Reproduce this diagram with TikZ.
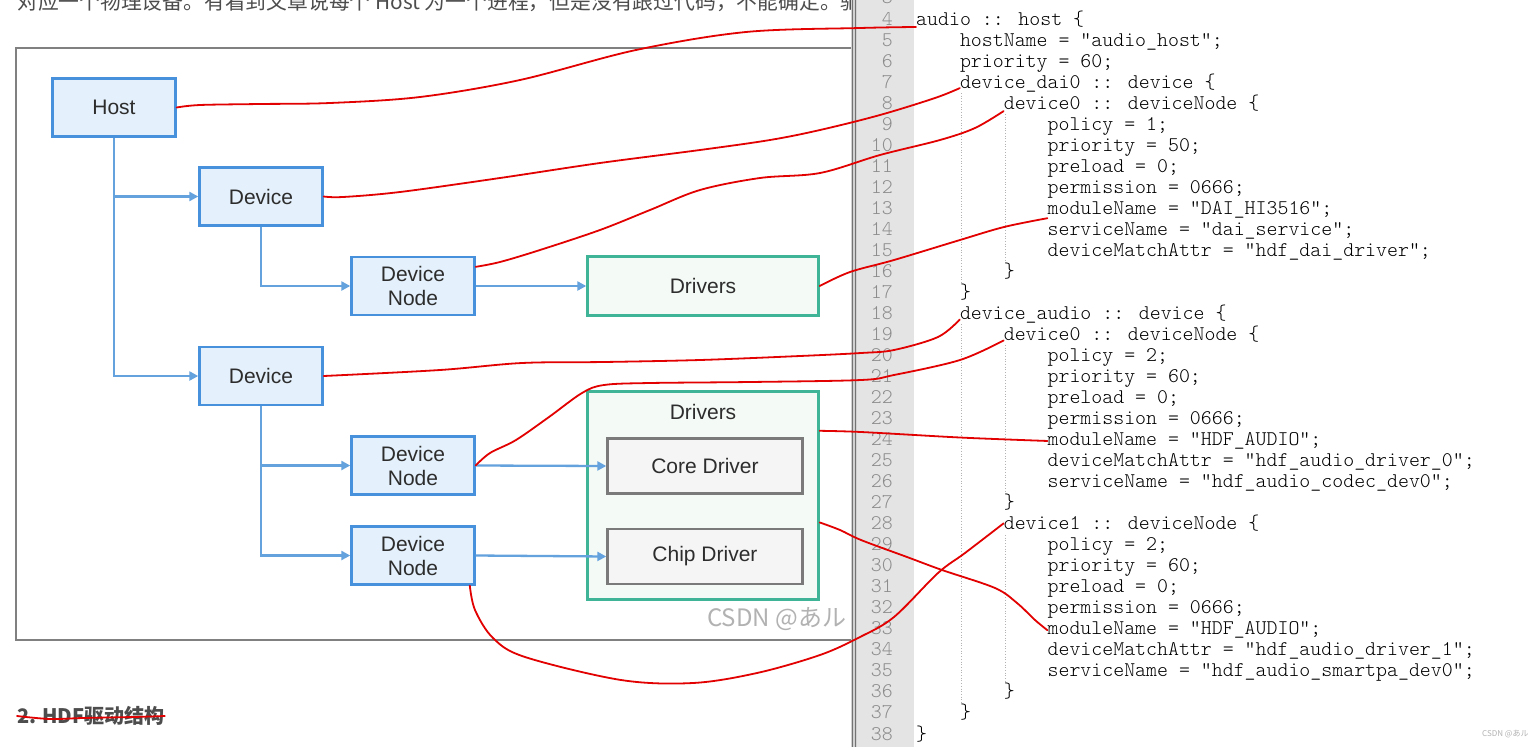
\documentclass[tikz,border=0pt]{standalone}
\usepackage{fontspec}
\setsansfont{Liberation Sans}
\newfontfamily\codefont{lmmonolt10-regular.otf}
\newfontfamily\cjkfont{Noto Sans CJK SC}
\newfontfamily\jpfont{Noto Sans CJK JP}
\usetikzlibrary{arrows.meta}

\definecolor{boxblue}{RGB}{70,144,220}
\definecolor{fillblue}{RGB}{228,240,251}
\definecolor{arrblue}{RGB}{100,162,222}
\definecolor{boxgreen}{RGB}{64,180,150}
\definecolor{fillgreen}{RGB}{244,250,246}
\definecolor{boxgray}{RGB}{122,122,122}
\definecolor{fillgray}{RGB}{245,245,245}
\definecolor{txtdark}{RGB}{45,45,45}
\definecolor{pentred}{RGB}{226,0,0}
\definecolor{gutter}{RGB}{228,228,228}
\definecolor{lnumgray}{RGB}{140,140,140}
\definecolor{wmgray}{RGB}{178,178,178}
\definecolor{headgray}{RGB}{77,77,77}

\begin{document}
\begin{tikzpicture}[x=1pt,y=-1pt]
            \tikzset{boxfont/.style={font=\sffamily\fontsize{21}{24}\selectfont, text=txtdark, align=center, inner sep=0pt}};
            \tikzset{blubox/.style={boxfont, draw=boxblue, fill=fillblue, line width=2.4pt, minimum width=123pt, minimum height=58pt}};
            \tikzset{grnbox/.style={boxfont, draw=boxgreen, fill=fillgreen, line width=2.4pt, minimum width=231pt}};
            \tikzset{grybox/.style={boxfont, draw=boxgray, fill=fillgray, line width=2.4pt, minimum width=195pt, minimum height=55pt}};
            \tikzset{bluarr/.style={draw=arrblue, line width=2.3pt, -{Triangle[length=9pt,width=9pt]}}};
            \tikzset{pen/.style={draw=pentred, line width=1.8pt, line cap=round, line join=round}};
            \tikzset{codeline/.style={font=\codefont\fontsize{20.86}{21}\selectfont, text=black, anchor=base west, inner sep=0pt}};
            \tikzset{lnum/.style={font=\codefont\fontsize{20.86}{21}\selectfont, text=lnumgray, anchor=base east, inner sep=0pt}};
            \tikzset{guide/.style={draw=black!30, dotted, line width=0.7pt}};

            \useasboundingbox (0,0) rectangle (1540,747);
            \fill[white] (0,0) rectangle (1540,747);

            \begin{scope}
              \clip (0,0) rectangle (851,40);
              \node[anchor=base west, inner sep=0pt, font=\cjkfont\fontsize{20.8}{24}\selectfont, text=headgray] (intro) at (17,9) {对应一个物理设备。有看到文章说每个 Host 为一个进程，但是没有跟过代码，不能确定。驱动};
            \end{scope}

            \draw[black!50, line width=1.2pt] (851,48) -- (16,48) -- (16,640) -- (851,640);

            \node[blubox] (host) at (114,107.5) {Host};
            \node[blubox] (dev1) at (261,196.5) {Device};
            \node[blubox] (dn1) at (413,286) {Device\\Node};
            \node[grnbox, minimum height=59pt] (drv1) at (703,286) {Drivers};
            \node[blubox] (dev2) at (261,376) {Device};
            \node[blubox] (dn2) at (413,465.5) {Device\\Node};
            \node[blubox] (dn3) at (413,555.5) {Device\\Node};
            \node[grnbox, minimum height=208pt] (drv2) at (703,495.5) {};
            \node[boxfont] (drvlbl) at (703,412) {Drivers};
            \node[grybox] (core) at (705,466) {Core Driver};
            \node[grybox] (chip) at (705,556.5) {Chip Driver};

            \draw[bluarr] (host.south) |- (dev2.west);
            \draw[bluarr] (host.south |- dev1.west) -- (dev1.west);
            \draw[bluarr] (dev1.south) |- (dn1.west);
            \draw[bluarr] (dn1.east) -- (drv1.west);
            \draw[bluarr] (dev2.south) |- (dn3.west);
            \draw[bluarr] (dev2.south |- dn2.west) -- (dn2.west);
            \draw[bluarr] (dn2.east) -- (core.west);
            \draw[bluarr] (dn3.east) -- (chip.west);

            \node[anchor=base west, inner sep=0pt, font=\jpfont\fontsize{24}{28}\selectfont, text=wmgray] (wmark) at (707,626) {CSDN @あル};
            \node[anchor=west, inner sep=0pt, font=\cjkfont\bfseries\fontsize{20}{24}\selectfont, text=headgray] (head) at (17,716) {2. HDF驱动结构};

            \fill[black!18] (851,0) rectangle (857,747);
            \draw[black!55, line width=1pt] (852,0) -- (852,747);
            \draw[black!55, line width=1pt] (855.5,0) -- (855.5,747);
            \fill[gutter] (857,0) rectangle (914,747);

            \foreach \n/\lv/\tx in {3/0/{}, 4/0/{audio :: host \{}, 5/1/{hostName = "audio\_host";},
                6/1/{priority = 60;}, 7/1/{device\_dai0 :: device \{}, 8/2/{device0 :: deviceNode \{},
                9/3/{policy = 1;}, 10/3/{priority = 50;}, 11/3/{preload = 0;}, 12/3/{permission = 0666;},
                13/3/{moduleName = "DAI\_HI3516";}, 14/3/{serviceName = "dai\_service";},
                15/3/{deviceMatchAttr = "hdf\_dai\_driver";}, 16/2/{\}}, 17/1/{\}},
                18/1/{device\_audio :: device \{}, 19/2/{device0 :: deviceNode \{},
                20/3/{policy = 2;}, 21/3/{priority = 60;}, 22/3/{preload = 0;}, 23/3/{permission = 0666;},
                24/3/{moduleName = "HDF\_AUDIO";}, 25/3/{deviceMatchAttr = "hdf\_audio\_driver\_0";},
                26/3/{serviceName = "hdf\_audio\_codec\_dev0";}, 27/2/{\}},
                28/2/{device1 :: deviceNode \{}, 29/3/{policy = 2;}, 30/3/{priority = 60;},
                31/3/{preload = 0;}, 32/3/{permission = 0666;}, 33/3/{moduleName = "HDF\_AUDIO";},
                34/3/{deviceMatchAttr = "hdf\_audio\_driver\_1";},
                35/3/{serviceName = "hdf\_audio\_smartpa\_dev0";}, 36/2/{\}}, 37/1/{\}}, 38/0/{\}}}
            {
              \node[lnum] at (893,{25+(\n-4)*21.03}) {\n};
              \node[codeline] (c\n) at ({916+43.8*\lv},{25+(\n-4)*21.03}) {\tx};
            }

            \draw[guide] (961,93) -- (961,283);
            \draw[guide] (961,324) -- (961,704);
            \draw[guide] (1005,114) -- (1005,262);
            \draw[guide] (1005,345) -- (1005,493);
            \draw[guide] (1005,535) -- (1005,683);

            \node[anchor=base west, inner sep=0pt, font=\jpfont\fontsize{8}{9}\selectfont, text=wmgray] (wmsmall) at (1482,736) {CSDN @あル};

            \draw[pen] plot[smooth, tension=0.55] coordinates {(host.east) (200,105) (260,104) (330,103) (420,97) (520,80) (636,50) (746,32) (860,28) (c4.south west)};
            \draw[pen] plot[smooth, tension=0.55] coordinates {(dev1.east) (343,197) (400,192) (500,178) (600,163) (700,150) (770,140) (820,130) (880,115) (935,98) (c7.base west)};
            \draw[pen] plot[smooth, tension=0.55] coordinates {(dn1.17) (500,262) (540,250) (600,230) (650,210) (700,190) (760,178) (820,173) (880,155) (940,140) (975,128) (c8.south west)};
            \draw[pen] plot[smooth, tension=0.55] coordinates {(drv1.east) (850,272) (894,260) (960,240) (1004,227) (c13.south west)};
            \draw[pen] plot[smooth, tension=0.55] coordinates {(dev2.east) (440,370) (522,363) (604,362) (700,360) (800,356) (861,353) (894,350) (938,337) (c18.base west)};
            \draw[pen] plot[smooth, tension=0.55] coordinates {(dn2.east) (490,453) (516,440) (549,417) (582,393) (604,385) (650,383) (750,382) (861,380) (894,375) (960,360) (c19.base west)};
            \draw[pen] plot[smooth, tension=0.55] coordinates {(drv2.29) (861,432) (950,437) (995,439) (c24.west)};
            \draw[pen] plot[smooth, tension=0.55] coordinates {(drv2.-13) (840,530) (861,540) (907,557) (942,570) (995,588) (1017,603) (1035,620) (c33.west)};
            \draw[pen] plot[smooth, tension=0.55] coordinates {(dn3.-28) (475,610) (493,638) (525,657) (621,680) (693,683) (757,673) (820,655) (860,637) (894,617) (938,573) (965,553) (c28.west)};
            \draw[pen] plot[smooth, tension=0.55] coordinates {(head.west) (50,719) (83,718) (133,717) (head.east)};
\end{tikzpicture}
\end{document}
